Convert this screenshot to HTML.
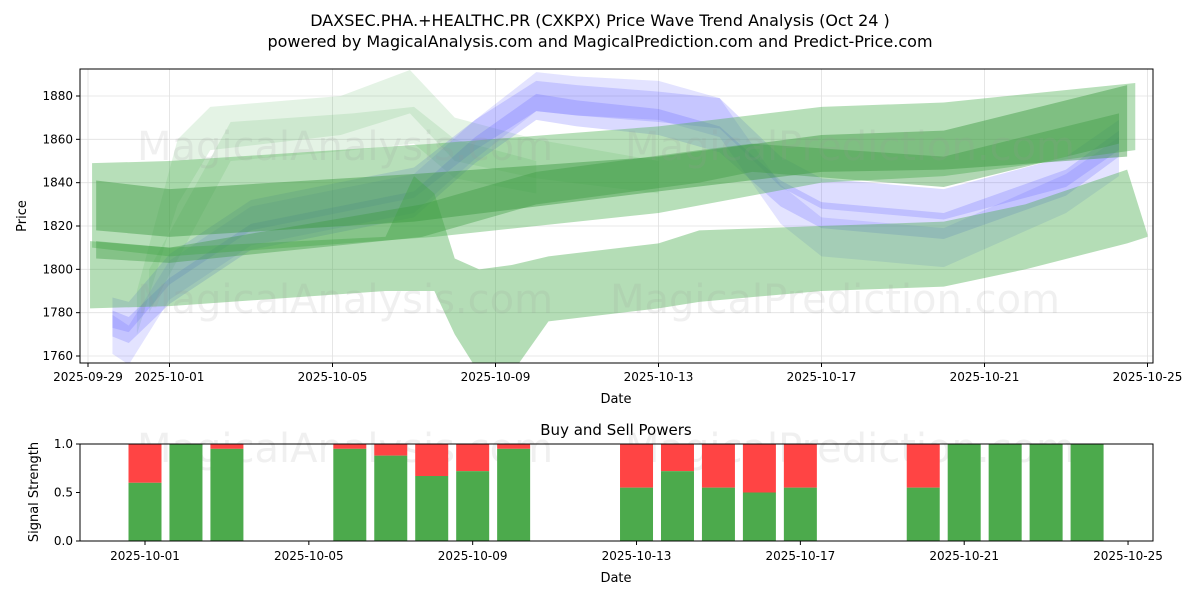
<!DOCTYPE html>
<html><head><meta charset="utf-8"><style>
body{margin:0;background:#fff;font-family:"Liberation Sans","DejaVu Sans",sans-serif}
svg text{font-family:"DejaVu Sans","Liberation Sans",sans-serif}
</style></head><body>
<svg id="c" width="1200" height="600" xmlns="http://www.w3.org/2000/svg">
<rect width="1200" height="600" fill="#fff"/>
<text x="600" y="26" font-size="16" text-anchor="middle">DAXSEC.PHA.+HEALTHC.PR (CXKPX) Price Wave Trend Analysis (Oct 24 )</text>
<text x="600" y="47" font-size="16" text-anchor="middle">powered by MagicalAnalysis.com and MagicalPrediction.com and Predict-Price.com</text>
<g id="main"></g>
<g id="sub"></g>
</svg>
<script>
// main chart data (day offsets from 2025-09-29)
const xTickLabels=["2025-09-29","2025-10-01","2025-10-05","2025-10-09","2025-10-13","2025-10-17","2025-10-21","2025-10-25"];
const xTickDays=[0,2,6,10,14,18,22,26];
const yTicks=[1760,1780,1800,1820,1840,1860,1880];
const bandA_d=[0.05,2,7.3,8.0,8.5,9.0,9.6,10.4,11.3,14,15,18,21,23,25.5,26];
const bandA_hi=[1813,1810,1815,1843,1835,1805,1800,1802,1806,1812,1818,1820,1822,1830,1846,1816];
const bandA_lo=[1782,1783,1790,1790,1790,1770,1752,1752,1776,1782,1785,1790,1792,1800,1812,1815];
const bandB_d=[0.1,2,8.5,14,18,21,25.7];
const bandB_hi=[1849,1850,1858,1866,1875,1877,1886];
const bandB_lo=[1810,1806,1815,1826,1840,1843,1855];
const bandC_d=[0.2,2,8,14,18,21,25.5];
const bandC_hi=[1841,1837,1844,1852,1862,1864,1885];
const bandC_lo=[1818,1815,1822,1836,1845,1846,1852];
const bandD_d=[0.2,2,8.2,11,15,16.3,21,25.3];
const bandD_hi=[1813,1810,1830,1845,1855,1858,1852,1872];
const bandD_lo=[1805,1803,1815,1830,1840,1845,1838,1858];
const bandE_d=[1.2,2.2,3,6.2,7.9,9,11,14];
const bandE_hi=[1790,1860,1875,1880,1892,1870,1860,1850];
const bandE_lo=[1770,1830,1855,1862,1872,1850,1842,1835];
const bandF_d=[1.5,3.5,6.5,8,9,11];
const bandF_hi=[1800,1868,1872,1875,1860,1850];
const bandF_lo=[1780,1850,1855,1858,1842,1835];
const blue_d=[0.6,1,2,4,8,9.5,11,12,14,15.5,17,18,21,24,25.3];
const blue1=[1775,1772,1790,1815,1830,1855,1875,1872,1868,1860,1835,1825,1820,1840,1858];
const blue2=[1780,1778,1800,1825,1840,1862,1880,1878,1875,1872,1845,1835,1830,1845,1862];
const blue3=[1770,1765,1795,1820,1835,1860,1882,1880,1878,1870,1830,1815,1810,1835,1852];
// sub chart data
const barDays=[2,3,4,7,8,9,10,11,14,15,16,17,18,21,22,23,24,25];
const buyPower=[0.6,1,0.95,0.95,0.88,0.67,0.72,0.95,0.55,0.72,0.55,0.5,0.55,0.55,1,1,1,1];
const subYTicks=[0,0.5,1];
const subXLabels=["2025-10-01","2025-10-05","2025-10-09","2025-10-13","2025-10-17","2025-10-21","2025-10-25"];
const subXDays=[2,6,10,14,18,22,26];

const NS="http://www.w3.org/2000/svg";
function el(t,a,p){const e=document.createElementNS(NS,t);for(const k in a)e.setAttribute(k,a[k]);p.appendChild(e);return e;}
const L=80,R=1153,T=69,B=363;
const X=d=>88+d*40.75, Y=v=>96+(1880-v)*260/120;
const main=document.getElementById('main');
const defs=el('defs',{},main);
const cp=el('clipPath',{id:'clipMain'},defs);
el('rect',{x:L,y:T,width:R-L,height:B-T},cp);
xTickDays.forEach((d,i)=>{
  const g=el('line',{x1:X(d),x2:X(d),y1:T,y2:B,stroke:'#e0e0e0','stroke-width':0.8},main);
  
});
yTicks.forEach(v=>{
  const g=el('line',{x1:L,x2:R,y1:Y(v),y2:Y(v),stroke:'#e0e0e0','stroke-width':0.8},main);
  
});
const plot=el('g',{'clip-path':'url(#clipMain)'},main);
function band(ds,hi,lo,fill,op,name){
  let pts=ds.map((d,i)=>X(d)+','+Y(hi[i]));
  for(let i=ds.length-1;i>=0;i--)pts.push(X(ds[i])+','+Y(lo[i]));
  const p=el('polygon',{points:pts.join(' '),fill:fill,'fill-opacity':op},plot);
  
}
function cband(ds,c,w,fill,op,name){band(ds,c.map(v=>v+w/2),c.map(v=>v-w/2),fill,op,name);}
band(bandE_d,bandE_hi,bandE_lo,'#4caf50',0.15,'wave-band-e');
band(bandF_d,bandF_hi,bandF_lo,'#4caf50',0.15,'wave-band-f');
cband(blue_d,blue3,18,'#6666ff',0.18,'wave-band-blue-3');
cband(blue_d,blue1,12,'#5555ff',0.22,'wave-band-blue-1');
cband(blue_d,blue2,14,'#5555ff',0.2,'wave-band-blue-2');
band(bandB_d,bandB_hi,bandB_lo,'#4caf50',0.4,'wave-band-b');
band(bandA_d,bandA_hi,bandA_lo,'#4caf50',0.42,'wave-band-a');
band(bandC_d,bandC_hi,bandC_lo,'#3c9a40',0.45,'wave-band-c');
band(bandD_d,bandD_hi,bandD_lo,'#3c9a40',0.4,'wave-band-d');
[[345,160],[850,160],[345,313],[835,313]].forEach((p,i)=>{
  const t=el('text',{x:p[0],y:p[1],'font-size':40,fill:'#999','fill-opacity':0.15,'text-anchor':'middle'},main);
  t.textContent=i%2?'MagicalPrediction.com':'MagicalAnalysis.com';
  
});
const fr=el('rect',{x:L,y:T,width:R-L,height:B-T,fill:'none',stroke:'#000','stroke-width':1},main);

xTickDays.forEach((d,i)=>{
  el('line',{x1:X(d),x2:X(d),y1:B,y2:B+4,stroke:'#000'},main);
  const t=el('text',{x:X(d),y:B+18,'font-size':12,'text-anchor':'middle'},main);
  t.textContent=xTickLabels[i];
  
});
yTicks.forEach(v=>{
  el('line',{x1:L-4,x2:L,y1:Y(v),y2:Y(v),stroke:'#000'},main);
  const t=el('text',{x:L-7,y:Y(v)+4,'font-size':12,'text-anchor':'end'},main);
  t.textContent=v;
  
});
let t=el('text',{x:616,y:403,'font-size':13,'text-anchor':'middle'},main);t.textContent='Date';

t=el('text',{x:26,y:216,'font-size':13,'text-anchor':'middle',transform:'rotate(-90 26 216)'},main);t.textContent='Price';


const sub=document.getElementById('sub');
const sT=444,sB=541;
const SX=d=>145+(d-2)*40.96, SY=v=>sB-v*(sB-sT);
t=el('text',{x:616,y:435,'font-size':15,'text-anchor':'middle'},sub);t.textContent='Buy and Sell Powers';

[[345,462],[850,462]].forEach((p,i)=>{
  const w=el('text',{x:p[0],y:p[1],'font-size':40,fill:'#999','fill-opacity':0.15,'text-anchor':'middle'},sub);
  w.textContent=i?'MagicalPrediction.com':'MagicalAnalysis.com';
  
});
barDays.forEach((d,i)=>{
  const bw=33,x=SX(d)-bw/2;
  const r1=el('rect',{x:x,y:SY(1),width:bw,height:SY(buyPower[i])-SY(1),fill:'#ff4444'},sub);
  
  const r2=el('rect',{x:x,y:SY(buyPower[i]),width:bw,height:sB-SY(buyPower[i]),fill:'#4caa4c'},sub);
  
});
const sf=el('rect',{x:L,y:sT,width:R-L,height:sB-sT,fill:'none',stroke:'#000','stroke-width':1},sub);

subXDays.forEach((d,i)=>{
  el('line',{x1:SX(d),x2:SX(d),y1:sB,y2:sB+4,stroke:'#000'},sub);
  const s=el('text',{x:SX(d),y:sB+19,'font-size':12,'text-anchor':'middle'},sub);
  s.textContent=subXLabels[i];
  
});
subYTicks.forEach(v=>{
  el('line',{x1:L-4,x2:L,y1:SY(v),y2:SY(v),stroke:'#000'},sub);
  const s=el('text',{x:L-7,y:SY(v)+4,'font-size':12,'text-anchor':'end'},sub);
  s.textContent=v.toFixed(1);
  
});
t=el('text',{x:616,y:582,'font-size':13,'text-anchor':'middle'},sub);t.textContent='Date';

t=el('text',{x:38,y:492,'font-size':13,'text-anchor':'middle',transform:'rotate(-90 38 492)'},sub);t.textContent='Signal Strength';

</script>
</body></html>
